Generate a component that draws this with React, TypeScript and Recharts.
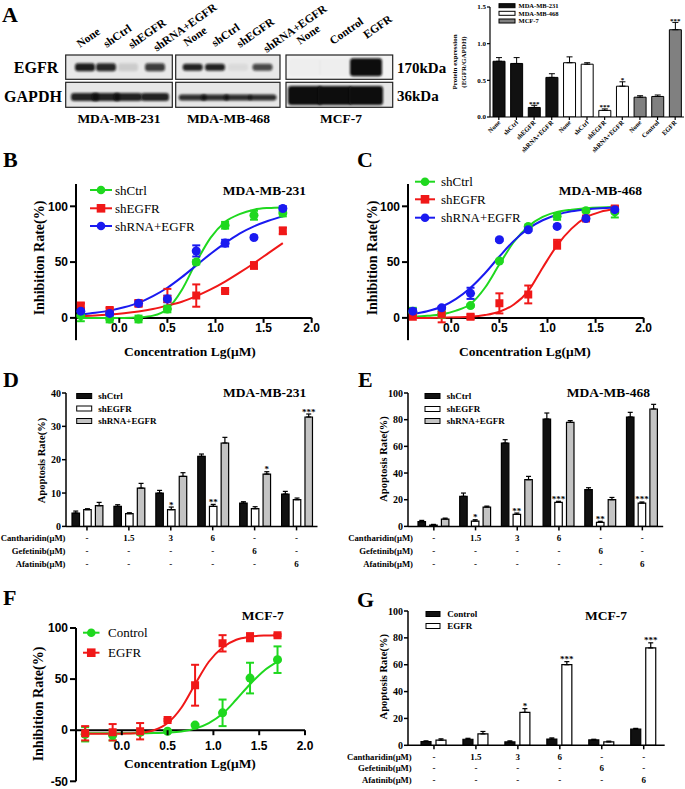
import React from "react"
import {
  Bar,
  BarChart,
  Cell,
  ComposedChart,
  ErrorBar,
  LabelList,
  Line,
  ReferenceLine,
  Scatter,
  XAxis,
  YAxis,
} from "recharts"

const SERIF = '"Liberation Serif", "Times New Roman", serif'
const SANS = '"Liberation Sans", Arial, sans-serif'

const GREEN = "#1fd81f"
const RED = "#f01818"
const BLUE = "#1a1af0"

// ---- A: western blot quantification ----
const A_LANES = ["None", "shCtrl", "shEGFR", "shRNA+EGFR", "None", "shCtrl", "shEGFR", "shRNA+EGFR", "None", "Control", "EGFR"]
const A_CELL_LINE = [0, 0, 0, 0, 1, 1, 1, 1, 2, 2, 2]
const CELL_LINES = ["MDA-MB-231", "MDA-MB-468", "MCF-7"]
const A_RATIO = [0.76, 0.73, 0.13, 0.54, 0.74, 0.72, 0.09, 0.42, 0.27, 0.28, 1.19]
const A_RATIO_ERR = [0.05, 0.08, 0.03, 0.05, 0.08, 0.02, 0.02, 0.06, 0.02, 0.02, 0.1]
const A_SIG = ["", "", "***", "", "", "", "***", "*", "", "", "***"]
const BLOT_EGFR = [0.92, 0.88, 0.12, 0.78, 0.9, 0.9, 0.06, 0.72, 0.02, 0.02, 1]
const BLOT_GAPDH = [0.9, 0.9, 0.9, 0.9, 0.85, 0.85, 0.85, 0.85, 1, 1, 1]

// ---- B, C, F: dose response ----
const LG_CONC = [-0.4, -0.1, 0.2, 0.5, 0.8, 1.1, 1.4, 1.7]
const FIT_X = [-0.4, -0.25, -0.1, 0.05, 0.2, 0.35, 0.5, 0.65, 0.8, 0.95, 1.1, 1.25, 1.4, 1.55, 1.7]

const B_SHCTRL = [2, -1, -1, 8, 50, 83, 92, 94]
const B_SHCTRL_ERR = [5, 3, 3, 3, 2, 3, 4, 3]
const B_SHCTRL_FIT = [0, 0, 0, 0, 0.5, 2, 8, 25, 50, 72, 86, 93, 97, 98.5, 99]
const B_SHEGFR = [11, 7, 13, 17, 20, 24, 47, 78]
const B_SHEGFR_ERR = [2, 2, 3, 9, 10, 1, 3, 3]
const B_SHEGFR_FIT = [1.5, 2.2, 3, 4.2, 5.8, 8, 11, 14.5, 19.5, 25.5, 32.5, 40.5, 49, 58, 67]
const B_SHRNA = [6, 4, 13, 17, 60, 67, 72, 98]
const B_SHRNA_ERR = [2, 2, 2, 3, 5, 3, 1, 2]
const B_SHRNA_FIT = [3, 4.5, 6.5, 9.5, 13.5, 19.5, 27, 36.5, 47, 57.5, 67, 75.5, 82, 87, 91]

const C_SHCTRL = [5, 3, 11, 51, 82, 91, 96, 95]
const C_SHCTRL_ERR = [4, 3, 1, 1, 1, 3, 1, 5]
const C_SHCTRL_FIT = [1, 1.8, 3.2, 6.5, 12.5, 27, 48, 68, 82, 90.5, 95, 97, 98.3, 99, 99.3]
const C_SHEGFR = [1, 3, 1, 13, 21, 66, 89, 98]
const C_SHEGFR_ERR = [1, 7, 2, 9, 8, 4, 2, 2]
const C_SHEGFR_FIT = [0, 0, 0.2, 0.5, 1, 2.5, 5.5, 12, 24, 45, 65, 80, 90, 95, 97.5]
const C_SHRNA = [6, 9, 22, 70, 79, 82, 89, 97]
const C_SHRNA_ERR = [2, 1, 5, 1, 1, 1, 1, 2]
const C_SHRNA_FIT = [3.5, 6, 10, 17, 27, 40, 55, 69, 80, 87.5, 92.5, 95.5, 97.2, 98.3, 99]

const F_CONTROL = [-4, -5, -2, -1, 5, 17, 51, 69]
const F_CONTROL_ERR = [7, 5, 2, 1, 1, 13, 15, 13]
const F_CONTROL_FIT = [-3, -3, -3, -3, -3, -2.8, -2.3, -1.2, 1.5, 7, 16, 30, 45, 58, 67]
const F_EGFR = [-3, -2, -1, 10, 44, 85, 91, 93]
const F_EGFR_ERR = [7, 8, 8, 1, 20, 8, 4, 1]
const F_EGFR_FIT = [-3.5, -3.5, -3.5, -3.3, -2.5, 0, 7, 22, 45, 67, 81, 88.5, 91.5, 92.7, 93]

// ---- D, E, G: apoptosis ----
const CANTHARIDIN = ["-", "1.5", "3", "6", "-", "-"]
const GEFETINIB = ["-", "-", "-", "-", "6", "-"]
const AFATINIB = ["-", "-", "-", "-", "-", "6"]
const DRUG_ROWS = ["Cantharidin(μM)", "Gefetinib(μM)", "Afatinib(μM)"]

const D_SHCTRL = [4.0, 6.0, 10.0, 21.0, 7.0, 9.7]
const D_SHCTRL_ERR = [0.6, 0.5, 0.8, 0.7, 0.4, 0.8]
const D_SHEGFR = [5.0, 3.8, 5.0, 6.0, 5.3, 8.0]
const D_SHEGFR_ERR = [0.3, 0.3, 0.8, 0.6, 0.6, 0.5]
const D_SHEGFR_SIG = ["", "", "*", "**", "", ""]
const D_SHRNA = [6.2, 11.5, 15.0, 25.0, 15.7, 32.8]
const D_SHRNA_ERR = [1.0, 1.4, 1.1, 1.7, 0.7, 0.9]
const D_SHRNA_SIG = ["", "", "", "", "*", "***"]

const E_SHCTRL = [3.5, 22.5, 62.5, 80.5, 27.5, 82]
const E_SHCTRL_ERR = [1, 2.5, 2.5, 4.5, 1.5, 3.5]
const E_SHEGFR = [1.0, 4.0, 9.0, 18.0, 3.0, 17.5]
const E_SHEGFR_ERR = [0.5, 1, 1, 0.8, 0.8, 0.8]
const E_SHEGFR_SIG = ["", "*", "**", "***", "**", "***"]
const E_SHRNA = [5.5, 14.5, 35, 78, 20, 88]
const E_SHRNA_ERR = [0.7, 0.7, 2.5, 1.3, 1.7, 3.5]

const G_CONTROL = [2.8, 4.5, 2.5, 4.7, 4.0, 12]
const G_CONTROL_ERR = [0.5, 0.7, 0.8, 0.8, 0.5, 0.6]
const G_EGFR = [3.8, 8.5, 24.5, 60, 2.5, 72.5]
const G_EGFR_ERR = [1, 1.8, 2.8, 2.3, 0.6, 3.8]
const G_EGFR_SIG = ["", "", "*", "***", "", "***"]

const NO_SIG = ["", "", "", "", "", ""]

type Box = { x0: number; y0: number; x1: number; y1: number }
const PAD = 4

function place(box: Box, yw: number, xh: number, right = PAD, top = PAD) {
  return {
    style: { position: "absolute" as const, left: box.x0 - yw, top: box.y0 - top },
    width: box.x1 - box.x0 + yw + right,
    height: box.y1 - box.y0 + top + xh,
    margin: { top, right, bottom: 0, left: 0 },
  }
}

type CurveSeries = {
  name: string
  color: string
  shape: "circle" | "square"
  y: number[]
  err: number[]
  fit: number[]
}

const B_SERIES: CurveSeries[] = [
  { name: "shCtrl", color: GREEN, shape: "circle", y: B_SHCTRL, err: B_SHCTRL_ERR, fit: B_SHCTRL_FIT },
  { name: "shEGFR", color: RED, shape: "square", y: B_SHEGFR, err: B_SHEGFR_ERR, fit: B_SHEGFR_FIT },
  { name: "shRNA+EGFR", color: BLUE, shape: "circle", y: B_SHRNA, err: B_SHRNA_ERR, fit: B_SHRNA_FIT },
]
const C_SERIES: CurveSeries[] = [
  { name: "shCtrl", color: GREEN, shape: "circle", y: C_SHCTRL, err: C_SHCTRL_ERR, fit: C_SHCTRL_FIT },
  { name: "shEGFR", color: RED, shape: "square", y: C_SHEGFR, err: C_SHEGFR_ERR, fit: C_SHEGFR_FIT },
  { name: "shRNA+EGFR", color: BLUE, shape: "circle", y: C_SHRNA, err: C_SHRNA_ERR, fit: C_SHRNA_FIT },
]
const F_SERIES: CurveSeries[] = [
  { name: "Control", color: GREEN, shape: "circle", y: F_CONTROL, err: F_CONTROL_ERR, fit: F_CONTROL_FIT },
  { name: "EGFR", color: RED, shape: "square", y: F_EGFR, err: F_EGFR_ERR, fit: F_EGFR_FIT },
]

function CurveTick(props: any) {
  const { x, payload, zeroY, dy } = props
  return (
    <g>
      <line x1={x} x2={x} y1={zeroY} y2={zeroY + 5} stroke="#000" strokeWidth={2} />
      <text x={x} y={zeroY + dy} textAnchor="middle" fontSize={12} fontWeight={700} fontFamily={SANS} fill="#000">
        {Number(payload.value).toFixed(1)}
      </text>
    </g>
  )
}

function CurvePanel({
  box,
  xDomain,
  yDomain,
  yTicks,
  series,
  tickDy,
}: {
  box: Box
  xDomain: [number, number]
  yDomain: [number, number]
  yTicks: number[]
  series: CurveSeries[]
  tickDy: number
}) {
  const yw = 40
  const xh = 10
  const top = 10
  const f = place(box, yw, xh, 16, top)
  const pxPerUnit = (box.y1 - box.y0) / (yDomain[1] - yDomain[0])
  const zeroY = top + yDomain[1] * pxPerUnit
  return (
    <div style={f.style}>
      <ComposedChart width={f.width} height={f.height} margin={f.margin}>
        <XAxis
          type="number"
          dataKey="x"
          domain={xDomain}
          allowDataOverflow
          ticks={[0, 0.5, 1, 1.5, 2]}
          interval={0}
          height={xh}
          axisLine={false}
          tickLine={false}
          tick={(p: any) => <CurveTick {...p} zeroY={zeroY} dy={tickDy} />}
        />
        <YAxis
          type="number"
          dataKey="y"
          domain={yDomain}
          allowDataOverflow
          ticks={yTicks}
          interval={0}
          width={yw}
          axisLine={{ stroke: "#000", strokeWidth: 2 }}
          tickLine={{ stroke: "#000", strokeWidth: 2 }}
          tickSize={6}
          tickMargin={2}
          tick={{ fill: "#000", fontSize: 12, fontWeight: 700, fontFamily: SANS }}
        />
        <ReferenceLine y={0} stroke="#000" strokeWidth={2} />
        {series.map((s) => (
          <Line
            key={s.name + "-fit"}
            data={FIT_X.map((x, i) => ({ x, y: s.fit[i] }))}
            dataKey="y"
            type="monotone"
            stroke={s.color}
            strokeWidth={2}
            dot={false}
            activeDot={false}
            isAnimationActive={false}
          />
        ))}
        {series.map((s) => (
          <Scatter
            key={s.name}
            data={LG_CONC.map((x, i) => ({ x, y: s.y[i], e: s.err[i] }))}
            dataKey="y"
            fill={s.color}
            shape={s.shape}
            isAnimationActive={false}
          >
            <ErrorBar dataKey="e" direction="y" width={4} stroke={s.color} strokeWidth={2} />
          </Scatter>
        ))}
      </ComposedChart>
    </div>
  )
}

const sigLabel = (sig: string[], errs: number[], pxPerUnit: number, fontSize: number) => (p: any) => {
  const s = sig[p.index]
  if (!s) return null
  const vb = p.viewBox ?? p
  const x = vb.x ?? p.x
  const y = vb.y ?? p.y
  const w = vb.width ?? p.width
  const top = y - errs[p.index] * pxPerUnit
  return (
    <text x={x + w / 2} y={top + 0.5} textAnchor="middle" fontSize={fontSize} fontWeight={700} fontFamily={SERIF} fill="#000">
      {s}
    </text>
  )
}

type BarSeries = { name: string; fill: string; values: number[]; errs: number[]; sig: string[] }

function DoseTick(props: any) {
  const { x, payload, baseY, rowDy } = props
  const i = Number(payload.value)
  const vals = [CANTHARIDIN[i], GEFETINIB[i], AFATINIB[i]]
  return (
    <g>
      {vals.map((v, r) => (
        <text key={r} x={x} y={baseY + rowDy[r]} textAnchor="middle" fontSize={9} fontWeight={700} fontFamily={SERIF} fill="#000">
          {v}
        </text>
      ))}
    </g>
  )
}

function BarPanel({
  box,
  yMax,
  yTicks,
  series,
  barSize,
  barGap,
  padLeft,
  rowDy,
}: {
  box: Box
  yMax: number
  yTicks: number[]
  series: BarSeries[]
  barSize: number
  barGap: number
  padLeft: number
  rowDy: number[]
}) {
  const yw = 36
  const xh = 46
  const top = 8
  const f = place(box, yw, xh, PAD, top)
  const pxPerUnit = (box.y1 - box.y0) / yMax
  const baseY = top + (box.y1 - box.y0)
  const rows = CANTHARIDIN.map((_, i) => {
    const r: any = { g: i }
    series.forEach((s, k) => {
      r["v" + k] = s.values[i]
      r["e" + k] = [0, s.errs[i]]
    })
    return r
  })
  return (
    <div style={f.style}>
      <BarChart width={f.width} height={f.height} margin={f.margin} data={rows} barGap={barGap}>
        <XAxis
          dataKey="g"
          type="category"
          padding={{ left: padLeft, right: 0 }}
          height={xh}
          interval={0}
          axisLine={{ stroke: "#000", strokeWidth: 1.5 }}
          tickLine={{ stroke: "#000", strokeWidth: 1.5 }}
          tickSize={4}
          tick={(p: any) => <DoseTick {...p} baseY={baseY} rowDy={rowDy} />}
        />
        <YAxis
          type="number"
          domain={[0, yMax]}
          allowDataOverflow
          ticks={yTicks}
          interval={0}
          width={yw}
          axisLine={{ stroke: "#000", strokeWidth: 1.5 }}
          tickLine={{ stroke: "#000", strokeWidth: 1.5 }}
          tickSize={4}
          tickMargin={1}
          tick={{ fill: "#000", fontSize: 10, fontWeight: 700, fontFamily: SERIF }}
        />
        {series.map((s, k) => (
          <Bar
            key={s.name}
            dataKey={"v" + k}
            fill={s.fill}
            stroke="#000"
            strokeWidth={1.2}
            barSize={barSize}
            isAnimationActive={false}
          >
            <ErrorBar dataKey={"e" + k} direction="y" width={2.5} stroke="#000" strokeWidth={1.2} />
            <LabelList dataKey={"v" + k} content={sigLabel(s.sig, s.errs, pxPerUnit, 9)} />
          </Bar>
        ))}
      </BarChart>
    </div>
  )
}

const A_COLORS = ["#111111", "#ffffff", "#808080"]

function ExpressionChart() {
  const box: Box = { x0: 490, y0: 7.3, x1: 684, y1: 117.3 }
  const yw = 30
  const xh = 52
  const f = place(box, yw, xh)
  const pxPerUnit = (box.y1 - box.y0) / 1.5
  const baseY = PAD + (box.y1 - box.y0)
  const rows = A_LANES.map((_, i) => ({ i, v: A_RATIO[i], e: [0, A_RATIO_ERR[i]] }))
  return (
    <div style={f.style}>
      <BarChart width={f.width} height={f.height} margin={f.margin} data={rows}>
        <XAxis
          dataKey="i"
          type="category"
          height={xh}
          interval={0}
          axisLine={{ stroke: "#000", strokeWidth: 1.2 }}
          tickLine={{ stroke: "#000", strokeWidth: 1.2 }}
          tickSize={3}
          tick={(p: any) => {
            const tx = p.x + 2
            const ty = baseY + 6
            return (
              <text x={tx} y={ty} transform={`rotate(-45 ${tx} ${ty})`} textAnchor="end" fontSize={6.5} fontWeight={700} fontFamily={SERIF} fill="#000">
                {A_LANES[Number(p.payload.value)]}
              </text>
            )
          }}
        />
        <YAxis
          type="number"
          domain={[0, 1.5]}
          allowDataOverflow
          ticks={[0, 0.5, 1, 1.5]}
          interval={0}
          width={yw}
          axisLine={{ stroke: "#000", strokeWidth: 1.2 }}
          tickLine={{ stroke: "#000", strokeWidth: 1.2 }}
          tickSize={3}
          tickMargin={1}
          tickFormatter={(v: number) => v.toFixed(1)}
          tick={{ fill: "#000", fontSize: 7, fontWeight: 700, fontFamily: SERIF }}
        />
        <Bar dataKey="v" barSize={12} stroke="#000" strokeWidth={1} isAnimationActive={false}>
          {rows.map((r) => (
            <Cell key={r.i} fill={A_COLORS[A_CELL_LINE[r.i]]} />
          ))}
          <ErrorBar dataKey="e" direction="y" width={3} stroke="#000" strokeWidth={1} />
          <LabelList dataKey="v" content={sigLabel(A_SIG, A_RATIO_ERR, pxPerUnit, 7)} />
        </Bar>
      </BarChart>
    </div>
  )
}

// western blot drawing (layout only)
const BLOT_PANELS = [
  { x0: 65.7, x1: 172.3, lanes: [0, 1, 2, 3], cx: [85, 106, 128, 155], w: 20, eh: 8, gh: 8, gy: 97, label: 119, starts: [[80, 48], [106.7, 48], [131.7, 49], [156.7, 51.7]] },
  { x0: 175.7, x1: 280, lanes: [4, 5, 6, 7], cx: [192.7, 215, 238, 262.5], w: 20, eh: 7, gh: 6, gy: 97.5, label: 228.5, starts: [[186.7, 46.7], [215, 47], [240, 48], [266.7, 53]] },
  { x0: 286, x1: 392.7, lanes: [8, 9, 10], cx: [305, 335, 366], w: 32, eh: 18, gh: 19, gy: 95.5, label: 341, starts: [[300, 45], [333, 45], [366.7, 39]] },
]

function Blot() {
  const eTop = 55
  const eBot = 79.3
  const gTop = 82.3
  const gBot = 107.3
  return (
    <g>
      {BLOT_PANELS.map((p, k) => (
        <g key={k}>
          <clipPath id={`cE${k}`}>
            <rect x={p.x0} y={eTop} width={p.x1 - p.x0} height={eBot - eTop} />
          </clipPath>
          <clipPath id={`cG${k}`}>
            <rect x={p.x0} y={gTop} width={p.x1 - p.x0} height={gBot - gTop} />
          </clipPath>
          <rect x={p.x0} y={eTop} width={p.x1 - p.x0} height={eBot - eTop} fill={k === 2 ? "#f3f3f3" : "#e8e8e8"} />
          <rect x={p.x0} y={gTop} width={p.x1 - p.x0} height={gBot - gTop} fill="#e6e6e6" />
          <g clipPath={`url(#cE${k})`}>
            {p.lanes.map((lane, j) => (
              <rect
                key={lane}
                x={p.cx[j] - p.w / 2}
                y={67.3 - p.eh / 2}
                width={p.w}
                height={p.eh}
                rx={3}
                fill="#0a0a0a"
                opacity={BLOT_EGFR[lane]}
                filter="url(#blur)"
              />
            ))}
          </g>
          <g clipPath={`url(#cG${k})`}>
            {p.lanes.map((lane, j) => (
              <rect
                key={lane}
                x={p.cx[j] - p.w / 2 - (k < 2 ? 4 : 1)}
                y={p.gy - p.gh / 2}
                width={p.w + (k < 2 ? 8 : 2)}
                height={p.gh}
                rx={3}
                fill="#0a0a0a"
                opacity={BLOT_GAPDH[lane]}
                filter="url(#blur)"
              />
            ))}
          </g>
          <rect x={p.x0} y={eTop} width={p.x1 - p.x0} height={eBot - eTop} fill="none" stroke="#222" strokeWidth={1.2} />
          <rect x={p.x0} y={gTop} width={p.x1 - p.x0} height={gBot - gTop} fill="none" stroke="#222" strokeWidth={1.2} />
          {p.lanes.map((lane, j) => (
            <text
              key={"l" + lane}
              x={p.starts[j][0]}
              y={p.starts[j][1]}
              transform={`rotate(-35 ${p.starts[j][0]} ${p.starts[j][1]})`}
              fontSize={11.5}
              fontWeight={700}
              fontFamily={SERIF}
            >
              {A_LANES[lane]}
            </text>
          ))}
          <text x={p.label} y={123} textAnchor="middle" fontSize={13.5} fontWeight={700} fontFamily={SERIF}>
            {CELL_LINES[k]}
          </text>
        </g>
      ))}
      <text x={36} y={73} textAnchor="middle" fontSize={16} fontWeight={700} fontFamily={SERIF}>EGFR</text>
      <text x={33} y={102} textAnchor="middle" fontSize={16} fontWeight={700} fontFamily={SERIF}>GAPDH</text>
      <text x={397} y={72.5} fontSize={15} fontWeight={700} fontFamily={SERIF}>170kDa</text>
      <text x={397} y={100.5} fontSize={15} fontWeight={700} fontFamily={SERIF}>36kDa</text>
    </g>
  )
}

function VLabel({ x, y, text, size }: { x: number; y: number; text: string; size: number }) {
  return (
    <text
      transform={`translate(${x + size * 0.35},${y}) rotate(-90)`}
      textAnchor="middle"
      fontSize={size}
      fontWeight={700}
      fontFamily={SERIF}
      fill="#000"
    >
      {text}
    </text>
  )
}

function CurveLegend({ series, x0, x1, tx, rows }: { series: CurveSeries[]; x0: number; x1: number; tx: number; rows: number[] }) {
  const mx = (x0 + x1) / 2
  return (
    <g>
      {series.map((s, i) => (
        <g key={s.name}>
          <line x1={x0} x2={x1} y1={rows[i]} y2={rows[i]} stroke={s.color} strokeWidth={2} />
          {s.shape === "circle" ? (
            <circle cx={mx} cy={rows[i]} r={4.3} fill={s.color} />
          ) : (
            <rect x={mx - 4.3} y={rows[i] - 4.3} width={8.6} height={8.6} fill={s.color} />
          )}
          <text x={tx} y={rows[i] + 4.5} fontSize={13} fontFamily={SERIF} fill="#000">
            {s.name}
          </text>
        </g>
      ))}
    </g>
  )
}

function BarLegend({ series, x, tx, rows, w, h, size }: { series: { name: string; fill: string }[]; x: number; tx: number; rows: number[]; w: number; h: number; size: number }) {
  return (
    <g>
      {series.map((s, i) => (
        <g key={s.name}>
          <rect x={x} y={rows[i] - h / 2} width={w} height={h} fill={s.fill} stroke="#000" strokeWidth={1} />
          <text x={tx} y={rows[i] + size * 0.35} fontSize={size} fontWeight={700} fontFamily={SERIF} fill="#000">
            {s.name}
          </text>
        </g>
      ))}
    </g>
  )
}

function DrugRows({ right, ys }: { right: number; ys: number[] }) {
  return (
    <g>
      {DRUG_ROWS.map((t, i) => (
        <text key={t} x={right} y={ys[i]} textAnchor="end" fontSize={8.7} fontWeight={700} fontFamily={SERIF} fill="#000">
          {t}
        </text>
      ))}
    </g>
  )
}

const D_SERIES: BarSeries[] = [
  { name: "shCtrl", fill: "#111111", values: D_SHCTRL, errs: D_SHCTRL_ERR, sig: NO_SIG },
  { name: "shEGFR", fill: "#ffffff", values: D_SHEGFR, errs: D_SHEGFR_ERR, sig: D_SHEGFR_SIG },
  { name: "shRNA+EGFR", fill: "#c4c4c4", values: D_SHRNA, errs: D_SHRNA_ERR, sig: D_SHRNA_SIG },
]
const E_SERIES: BarSeries[] = [
  { name: "shCtrl", fill: "#111111", values: E_SHCTRL, errs: E_SHCTRL_ERR, sig: NO_SIG },
  { name: "shEGFR", fill: "#ffffff", values: E_SHEGFR, errs: E_SHEGFR_ERR, sig: E_SHEGFR_SIG },
  { name: "shRNA+EGFR", fill: "#c4c4c4", values: E_SHRNA, errs: E_SHRNA_ERR, sig: NO_SIG },
]
const G_SERIES: BarSeries[] = [
  { name: "Control", fill: "#111111", values: G_CONTROL, errs: G_CONTROL_ERR, sig: NO_SIG },
  { name: "EGFR", fill: "#ffffff", values: G_EGFR, errs: G_EGFR_ERR, sig: G_EGFR_SIG },
]

const LETTERS: [string, number, number][] = [
  ["A", 2, 22],
  ["B", 3, 167],
  ["C", 357, 167],
  ["D", 3, 387],
  ["E", 358, 387],
  ["F", 3, 605],
  ["G", 357, 607],
]

function Overlay() {
  const title = (t: string, x: number, y: number) => (
    <text x={x} y={y} fontSize={13.5} fontWeight={700} fontFamily={SERIF} fill="#000">
      {t}
    </text>
  )
  const conc = (x: number, y: number) => (
    <text x={x} y={y} textAnchor="middle" fontSize={13.5} fontWeight={700} fontFamily={SERIF} fill="#000">
      Concentration Lg(μM)
    </text>
  )
  return (
    <svg width={685} height={789} style={{ position: "absolute", left: 0, top: 0, pointerEvents: "none" }}>
      <defs>
        <filter id="blur" x="-50%" y="-50%" width="200%" height="200%">
          <feGaussianBlur stdDeviation="1.3" />
        </filter>
      </defs>
      {LETTERS.map(([t, x, y]) => (
        <text key={t} x={x} y={y} fontSize={22} fontWeight={700} fontFamily={SERIF} fill="#000">
          {t}
        </text>
      ))}
      <Blot />

      {/* A quantification */}
      <VLabel x={455} y={62} text="Protein expression" size={7} />
      <VLabel x={464} y={62} text="(EGFR/GAPDH)" size={7} />
      <BarLegend
        series={CELL_LINES.map((n, i) => ({ name: n, fill: A_COLORS[i] }))}
        x={499}
        tx={518.5}
        rows={[5.7, 13.3, 21]}
        w={16}
        h={4}
        size={6.5}
      />

      {/* B */}
      {title("MDA-MB-231", 222.7, 195)}
      <CurveLegend series={B_SERIES} x0={90} x1={112} tx={115} rows={[190, 208.3, 226]} />
      <VLabel x={39} y={258} text="Inhibition Rate(%)" size={14} />
      {conc(190, 356)}

      {/* C */}
      {title("MDA-MB-468", 558.7, 195)}
      <CurveLegend series={C_SERIES} x0={415} x1={435} tx={441} rows={[181.7, 199.3, 217.7]} />
      <VLabel x={371.7} y={258} text="Inhibition Rate(%)" size={14} />
      {conc(525, 356)}

      {/* D */}
      {title("MDA-MB-231", 223, 396.5)}
      <BarLegend series={D_SERIES} x={76.7} tx={98.3} rows={[396, 408.5, 421]} w={15} h={5} size={9} />
      <VLabel x={41.7} y={460.5} text="Apoptosis Rate(%)" size={10.5} />
      <DrugRows right={65.5} ys={[541, 554, 567]} />

      {/* E */}
      {title("MDA-MB-468", 566.7, 396.5)}
      <BarLegend series={E_SERIES} x={425} tx={446.7} rows={[396, 409, 421]} w={15} h={5} size={9} />
      <VLabel x={383.3} y={459} text="Apoptosis Rate(%)" size={10.5} />
      <DrugRows right={413} ys={[541, 554, 567]} />

      {/* F */}
      {title("MCF-7", 241.7, 620)}
      <CurveLegend series={F_SERIES} x0={83} x1={99.5} tx={108} rows={[632.7, 652.7]} />
      <VLabel x={38.3} y={704} text="Inhibition Rate(%)" size={14} />
      {conc(190, 767.5)}

      {/* G */}
      {title("MCF-7", 585, 619.7)}
      <BarLegend series={G_SERIES} x={426} tx={447.3} rows={[614, 626]} w={14} h={5} size={9} />
      <VLabel x={383.3} y={676.7} text="Apoptosis Rate(%)" size={10.5} />
      <DrugRows right={411.7} ys={[760, 771, 783]} />
    </svg>
  )
}

export default function App() {
  return (
    <div style={{ position: "absolute", left: 0, top: 0, width: 685, height: 789, background: "#fff", overflow: "hidden" }}>
      <ExpressionChart />
      <CurvePanel
        box={{ x0: 76, y0: 184.4, x1: 311.7, y1: 340.6 }}
        xDomain={[-0.45, 2]}
        yDomain={[-20, 120]}
        yTicks={[0, 50, 100]}
        series={B_SERIES}
        tickDy={14}
      />
      <CurvePanel
        box={{ x0: 408.3, y0: 184.4, x1: 644, y1: 340.6 }}
        xDomain={[-0.45, 2]}
        yDomain={[-20, 120]}
        yTicks={[0, 50, 100]}
        series={C_SERIES}
        tickDy={14}
      />
      <BarPanel
        box={{ x0: 66, y0: 393.3, x1: 317.5, y1: 526.7 }}
        yMax={40}
        yTicks={[0, 10, 20, 30, 40]}
        series={D_SERIES}
        barSize={7.5}
        barGap={4.2}
        padLeft={0}
        rowDy={[14.3, 27.3, 40.3]}
      />
      <BarPanel
        box={{ x0: 408.3, y0: 393.3, x1: 663.5, y1: 526.7 }}
        yMax={100}
        yTicks={[0, 20, 40, 60, 80, 100]}
        series={E_SERIES}
        barSize={7.5}
        barGap={4.2}
        padLeft={5}
        rowDy={[14.3, 27.3, 40.3]}
      />
      <CurvePanel
        box={{ x0: 76, y0: 628, x1: 305, y1: 781.3 }}
        xDomain={[-0.5, 2]}
        yDomain={[-50, 100]}
        yTicks={[-50, 0, 50, 100]}
        series={F_SERIES}
        tickDy={19.5}
      />
      <BarPanel
        box={{ x0: 408.3, y0: 610.7, x1: 665, y1: 745 }}
        yMax={100}
        yTicks={[0, 20, 40, 60, 80, 100]}
        series={G_SERIES}
        barSize={10}
        barGap={5}
        padLeft={5}
        rowDy={[15, 26, 38]}
      />
      <Overlay />
    </div>
  )
}
